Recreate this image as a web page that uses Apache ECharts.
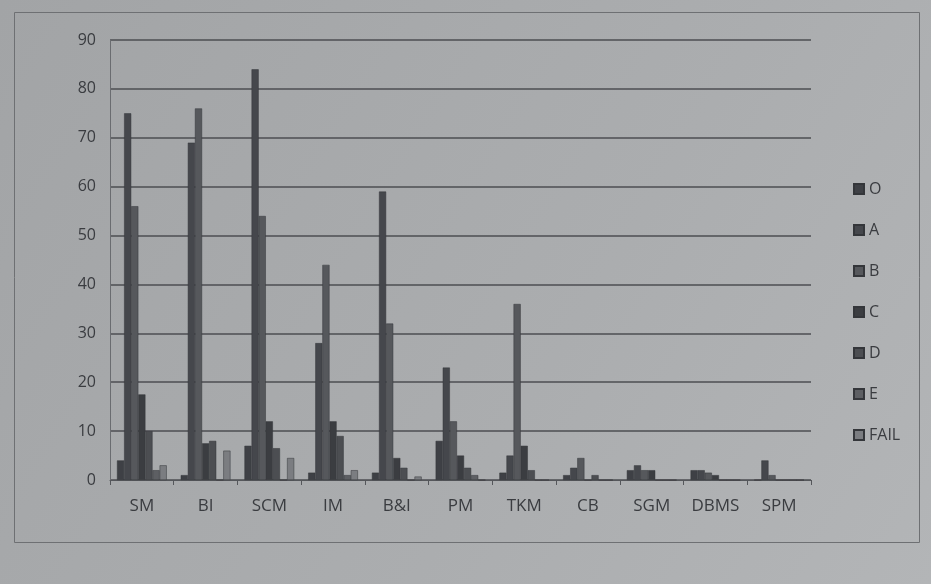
<!DOCTYPE html>
<html>
<head>
<meta charset="utf-8">
<script src="https://cdn.jsdelivr.net/npm/echarts@6/dist/echarts.min.js"></script>
<style>html,body{margin:0;padding:0;background:#a7a9ab;}#c{width:931px;height:584px;}</style>
</head>
<body>
<div id="c"></div>
<script>
const categories = ['SM','BI','SCM','IM','B&I','PM','TKM','CB','SGM','DBMS','SPM'];
const seriesNames = ['O','A','B','C','D','E','FAIL'];
const O    = [4, 1, 7, 1.5, 1.5, 8, 1.5, 1, 2, 2, 0];
const A    = [75, 69, 84, 28, 59, 23, 5, 2.5, 3, 2, 4];
const B    = [56, 76, 54, 44, 32, 12, 36, 4.5, 2, 1.5, 1];
const C    = [17.5, 7.5, 12, 12, 4.5, 5, 7, 0, 2, 1, 0];
const D    = [10, 8, 6.5, 9, 2.5, 2.5, 2, 1, 0, 0, 0];
const E    = [2, 0, 0, 1, 0, 1, 0, 0, 0, 0, 0];
const FAIL = [3, 6, 4.5, 2, 0.7, 0, 0, 0, 0, 0, 0];
const yTicks = [0, 10, 20, 30, 40, 50, 60, 70, 80, 90];

const values = [O, A, B, C, D, E, FAIL];
const colors = ['#3e4045','#45474c','#56585c','#3b3d41','#4c4e52','#5d5f63','#7b7d81'];

const chart = echarts.init(document.getElementById('c'));
chart.setOption({
  backgroundColor: {
    type: 'linear', x: 0, y: 0, x2: 1, y2: 1,
    colorStops: [{offset: 0, color: '#a2a4a6'}, {offset: 0.6, color: '#abadaf'}, {offset: 1, color: '#b3b5b7'}]
  },
  animation: false,
  graphic: [{
    type: 'rect', left: 12, top: 10,
    shape: {width: 905, height: 530},
    style: {fill: 'none', stroke: '#6e7073', lineWidth: 1}
  }],
  legend: {
    orient: 'vertical', left: 848, top: 176,
    itemWidth: 10, itemHeight: 10, itemGap: 25,
    textStyle: {fontFamily: 'Open Sans', fontSize: 16, color: '#3a3c40'},
    icon: 'rect',
    data: seriesNames
  },
  grid: {left: 110, right: 120, top: 40, bottom: 104},
  xAxis: {
    type: 'category', data: categories,
    axisLine: {lineStyle: {color: '#55575b'}},
    axisTick: {show: true, lineStyle: {color: '#55575b'}, length: 5},
    axisLabel: {fontFamily: 'Open Sans', fontSize: 17, color: '#3a3c40', margin: 18}
  },
  yAxis: {
    type: 'value', min: yTicks[0], max: yTicks[yTicks.length - 1], interval: 10,
    axisLine: {show: true, lineStyle: {color: '#6a6c70'}},
    axisTick: {show: false},
    splitLine: {lineStyle: {color: '#4c4e52', width: 1.5}},
    axisLabel: {fontFamily: 'Open Sans', fontSize: 16, color: '#3a3c40', margin: 14}
  },
  series: seriesNames.map((n, i) => ({
    name: n, type: 'bar', data: values[i],
    barGap: '0%', barCategoryGap: '22%',
    itemStyle: {color: colors[i], borderColor: '#34363a', borderWidth: 0.5}
  }))
});
</script>
</body>
</html>
